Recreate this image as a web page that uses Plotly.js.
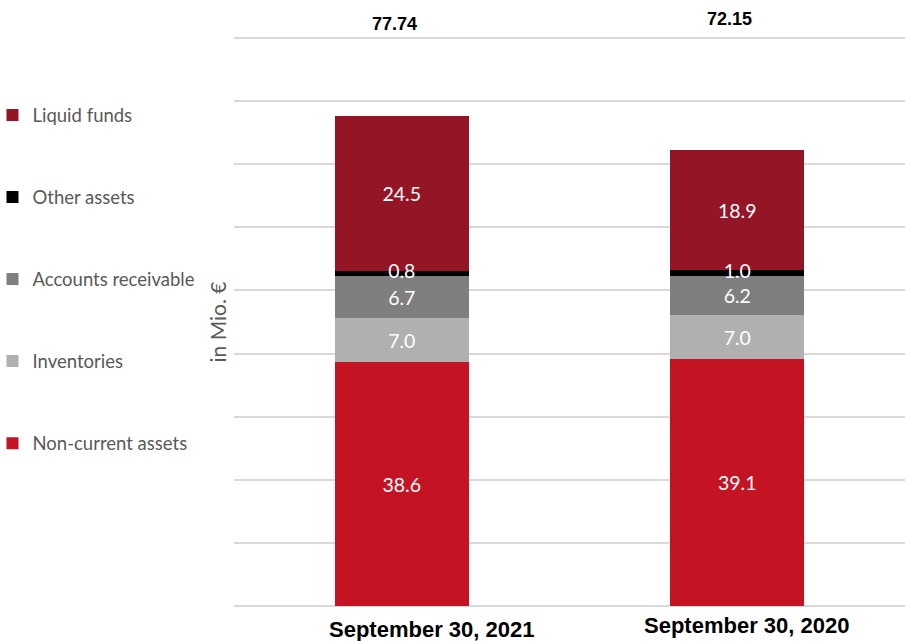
<!DOCTYPE html>
<html>
<head>
<meta charset="utf-8">
<script src="https://cdn.plot.ly/plotly-3.0.1.min.js"></script>
<style>html,body{margin:0;padding:0;background:#fff;}#chart{width:905px;height:641px;}</style>
</head>
<body>
<div id="chart"></div>
<script>
var categories = ["September 30, 2021", "September 30, 2020"];
var totals = ["77.74", "72.15"];
var nonCurrentAssets = [38.6, 39.1];
var inventories = [7.0, 7.0];
var accountsReceivable = [6.7, 6.2];
var otherAssets = [0.8, 1.0];
var liquidFunds = [24.5, 18.9];

var seriesNames = ["Non-current assets", "Inventories", "Accounts receivable", "Other assets", "Liquid funds"];
var seriesValues = [nonCurrentAssets, inventories, accountsReceivable, otherAssets, liquidFunds];
var seriesColors = ["#C41424", "#B0B0B0", "#7F7F7F", "#000000", "#931526"];

var labelFont = { family: "Lato, 'Open Sans', sans-serif", size: 19.5, color: "#FFFFFF" };

var traces = seriesNames.map(function (name, i) {
  var isThin = (name === "Other assets");
  return {
    type: "bar",
    name: name,
    x: categories,
    y: seriesValues[i],
    marker: { color: seriesColors[i] },
    text: isThin ? null : seriesValues[i].map(function (v) { return v.toFixed(1); }),
    textposition: "inside",
    insidetextanchor: "middle",
    textangle: 0,
    constraintext: "none",
    textfont: labelFont,
    hoverinfo: "skip",
    legendgroup: "g" + i,
    legendrank: seriesNames.length - i,
    width: 0.4
  };
});

// label for the thin "Other assets" segment, drawn on top of the stack
var otherMid = categories.map(function (c, j) {
  return nonCurrentAssets[j] + inventories[j] + accountsReceivable[j] + otherAssets[j] / 2;
});
traces.push({
  type: "scatter", mode: "text", x: categories, y: otherMid,
  text: otherAssets.map(function (v) { return v.toFixed(1); }),
  textposition: "middle center", textfont: labelFont,
  showlegend: false, hoverinfo: "skip", cliponaxis: false
});

var annotations = [];
var totalShift = [-7, -8];
var totalY = [1.0191, 1.0279];
categories.forEach(function (c, i) {
  annotations.push({
    x: c, xref: "x", y: totalY[i], yref: "paper", yanchor: "middle",
    text: "<b>" + totals[i] + "</b>", showarrow: false, xshift: totalShift[i],
    font: { family: "'Liberation Sans', Arial, sans-serif", size: 18, color: "#000" }
  });
});
var labelShift = [30, 9];
var labelY = [-0.0365, -0.0296];
categories.forEach(function (c, i) {
  annotations.push({
    x: c, xref: "x", y: labelY[i], yref: "paper", yanchor: "middle",
    text: "<b>" + c + "</b>", showarrow: false, xshift: labelShift[i],
    font: { family: "'Liberation Sans', Arial, sans-serif", size: 22, color: "#000" }
  });
});

var layout = {
  width: 905, height: 641,
  margin: { l: 234, r: 0, t: 35, b: 32 },
  paper_bgcolor: "#FFFFFF", plot_bgcolor: "#FFFFFF",
  barmode: "stack",
  showlegend: true,
  legend: {
    x: -0.348, xanchor: "left", y: 0.893, yanchor: "top",
    traceorder: "grouped", tracegroupgap: 55, indentation: -8,
    font: { family: "Lato, 'Open Sans', sans-serif", size: 18.5, color: "#595959" },
    itemwidth: 30, bgcolor: "rgba(0,0,0,0)"
  },
  xaxis: { showticklabels: false, showgrid: false, zeroline: false, showline: false, ticks: "" },
  yaxis: {
    range: [-0.5, 90.5], tickvals: [0, 10, 20, 30, 40, 50, 60, 70, 80, 90], showticklabels: false, ticks: "",
    showgrid: true, gridcolor: "#D9D9D9", gridwidth: 2, zeroline: false, showline: false,
    title: { text: "in Mio. €", standoff: 0, font: { family: "Lato, 'Open Sans', sans-serif", size: 21, color: "#595959" } }
  },
  annotations: annotations
};

Plotly.newPlot("chart", traces, layout, { staticPlot: true, displayModeBar: false });
</script>
</body>
</html>
